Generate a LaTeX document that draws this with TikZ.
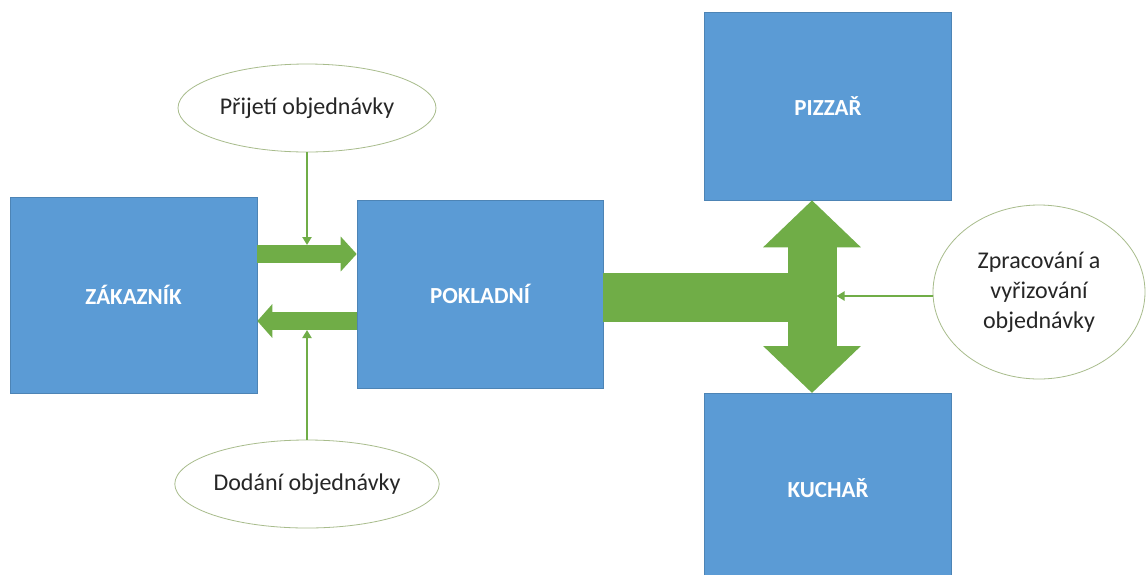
\documentclass[tikz,border=0pt]{standalone}
\usepackage{fontspec}
\setmainfont{Carlito}
\usetikzlibrary{arrows.meta,calc,shapes.geometric}
\definecolor{boxblue}{HTML}{5B9BD5}
\definecolor{agreen}{HTML}{70AD47}
\definecolor{ellline}{HTML}{A8BC8C}
\tikzset{
  boxlabel/.style={font=\fontsize{23}{27}\selectfont\bfseries, text=white},
  bluebox/.style={fill=boxblue, draw=boxblue!85!black, line width=0.6pt, inner sep=0pt, boxlabel},
  bubble/.style={ellipse, draw=ellline, line width=0.8pt, fill=white, inner sep=0pt,
     font=\fontsize{24}{30}\selectfont, align=center, text=black!85},
  thin/.style={draw=agreen, line width=2.2pt, -{Triangle[length=8pt,width=9pt]}},
  fat/.style={draw=agreen, line width=18pt},
}
\begin{document}
\begin{tikzpicture}[x=1pt,y=-1pt]
\useasboundingbox (0,0) rectangle (1146,574);
\fill[white] (0,0) rectangle (1146,574);
% boxes
\node[bluebox, minimum width=247pt, minimum height=196pt] (zak) at (133.5,295) {ZÁKAZNÍK};
\node[bluebox, minimum width=246pt, minimum height=188pt] (pok) at (480,294) {POKLADNÍ};
\node[bluebox, minimum width=247pt, minimum height=188pt] (piz) at (828,106) {PIZZAŘ};
\path[fill=boxblue, draw=boxblue!85!black, line width=0.6pt] (704.5,393) rectangle (951.5,576);
\node[boxlabel] (kuch) at (828,488) {KUCHAŘ};
\coordinate (kuchtop) at (812,393);
% ellipses
\node[bubble, minimum width=258pt, minimum height=88pt] (prij) at (307,108) {Přijetí objednávky};
\node[bubble, minimum width=258pt, minimum height=88pt] (dod) at (307,484) {Dodání objednávky};
\node[bubble, minimum width=212pt, minimum height=174pt] (zprac) at (1039,292) {Zpracování a\\vyřizování\\objednávky};
% fat arrows between Zákazník and Pokladní
\draw[fat, -{Triangle[length=16pt,width=34pt]}] (zak.east |- 0,254) -- (pok.west |- 0,254);
\draw[fat, -{Triangle[length=15pt,width=33pt]}] (pok.west |- 0,321) -- (zak.east |- 0,321);
% T-shaped connector to Pizzař and Kuchař
\fill[agreen] (pok.east |- 0,273) rectangle (812,322);
\draw[draw=agreen, line width=49pt, {Triangle[length=47pt,width=95pt]}-{Triangle[length=47pt,width=95pt]}]
  (kuchtop) -- (piz.south -| kuchtop);
\coordinate (shaftR) at (836.5,296);
% thin arrows
\draw[thin] (prij.south) -- (prij.south |- 0,245);
\draw[thin] (dod.north) -- (dod.north |- 0,330);
\draw[thin] (zprac.west |- shaftR) -- (shaftR);
\end{tikzpicture}
\end{document}
